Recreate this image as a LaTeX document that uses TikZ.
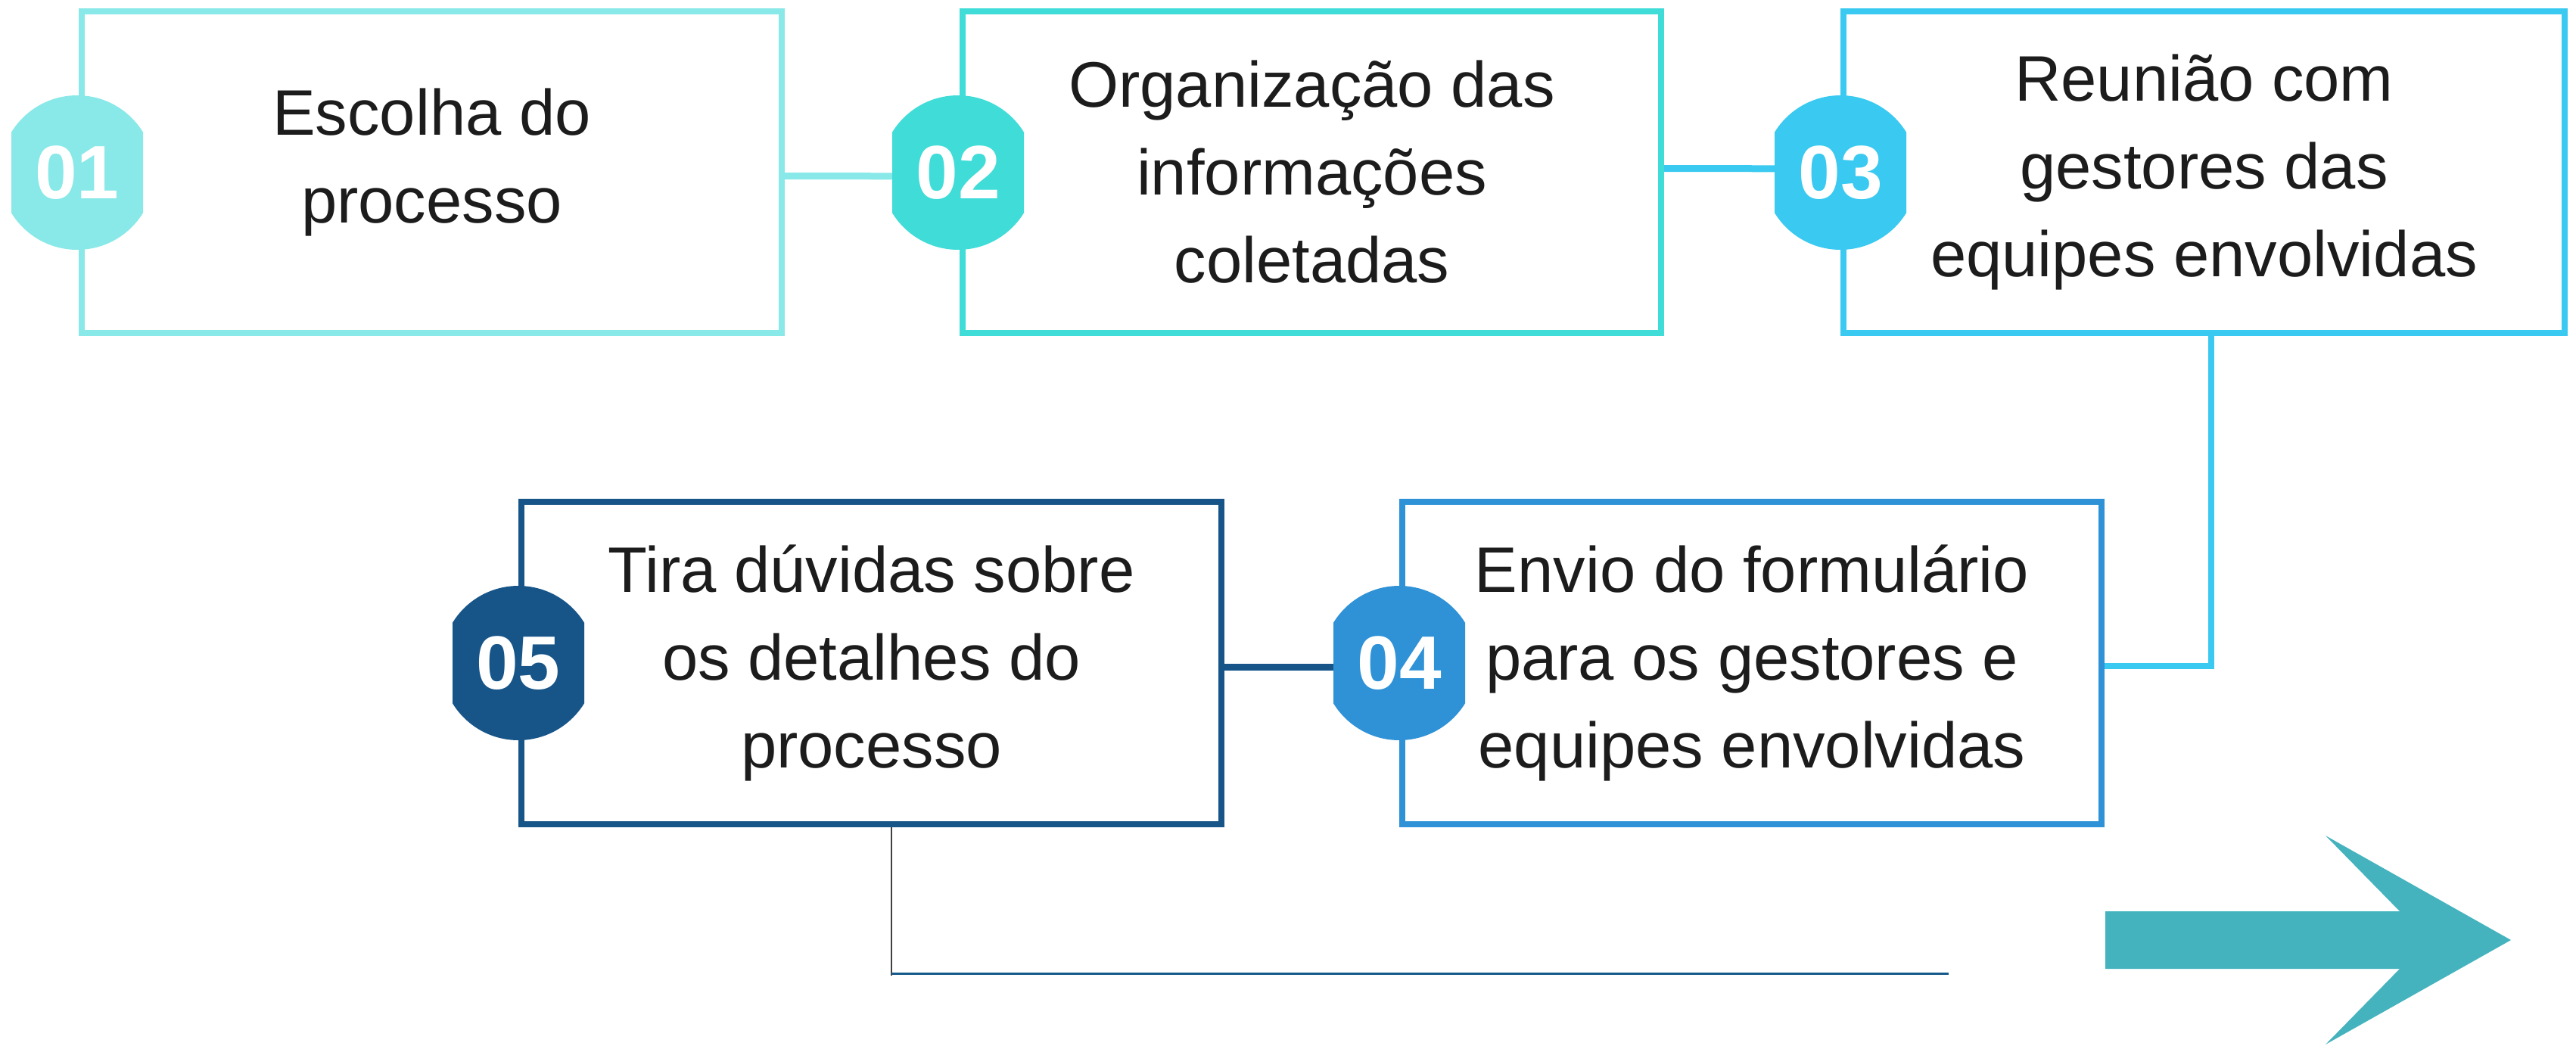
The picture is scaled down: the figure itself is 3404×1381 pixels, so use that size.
\documentclass[tikz,border=0pt]{standalone}
\usepackage{fontspec}
\setmainfont{Liberation Sans}
\usetikzlibrary{backgrounds}
\definecolor{cA}{HTML}{89E8E8}
\definecolor{cB}{HTML}{40DCD8}
\definecolor{cC}{HTML}{3AC9F0}
\definecolor{cD}{HTML}{2F92D6}
\definecolor{cE}{HTML}{175589}
\definecolor{arrowc}{HTML}{45B3BE}
\definecolor{txt}{HTML}{1C1C1C}
\definecolor{thinline}{HTML}{155A8A}
\newcommand\bodyfont{\fontsize{85}{116}\selectfont}
\newcommand\numfont{\fontsize{100}{100}\selectfont\bfseries}
\tikzset{
  box/.style={draw=#1, line width=8pt, minimum width=925pt, minimum height=425pt,
    inner sep=0pt, align=center, font=\bodyfont, text=txt},
  badge/.style={minimum width=174pt, minimum height=204pt, inner sep=0pt,
    text=white, font=\numfont,
    path picture={\fill[#1] (path picture bounding box.center) circle[radius=102pt];}},
  link/.style={draw=#1, line width=9pt},
}
\begin{document}
\begin{tikzpicture}[x=1pt,y=-1pt]
\useasboundingbox (0,0) rectangle (3404,1381);
% boxes
\node[box=cA] (b1) at (570.5,227.5) {};
\node[font=\bodyfont, text=txt, align=center] (t1) at (570.5,215) {Escolha do\\processo};
\node[box=cB, minimum width=923pt] (b2) at (1733.5,227.5) {Organização das\\informações\\coletadas};
\node[box=cC, minimum width=953pt] (b3) at (2912.5,227.5) {Reunião com\\gestores das\\equipes envolvidas};
\node[box=cD, minimum width=924pt, minimum height=426pt] (b4) at (2315,876) {Envio do formulário\\para os gestores e\\equipes envolvidas};
\node[box=cE, minimum height=426pt] (b5) at (1151.5,876) {Tira dúvidas sobre\\os detalhes do\\processo};
% badges
\node[badge=cA] (n1) at (102,228) {01};
\node[badge=cB] (n2) at (1266,228) {02};
\node[badge=cC] (n3) at (2432,228) {03};
\node[badge=cD] (n4) at (1849,876) {04};
\node[badge=cE] (n5) at (685,876) {05};
% connectors
\begin{scope}[on background layer]
  \draw[link=cA] ([yshift=-5pt]b1.east) -- ([yshift=-5pt]n2.center);
  \draw[link=cC] ([yshift=5pt]b2.east) -- ([yshift=5pt]n3.center);
  \draw[link=cC, line width=8.5pt] ([xshift=9.5pt]b3.south) |- ([yshift=-4pt]b4.east);
  \draw[link=cE] ([yshift=-5pt]b5.east) -- ([yshift=-5pt]n4.center);
\end{scope}
\coordinate (lend) at (2575,1286);
\draw[line width=1.2pt, draw=black!75] ([xshift=26.5pt]b5.south) -- ++(0,196);
\draw[line width=3pt, draw=thinline] ([xshift=26.5pt,yshift=-193pt]b5.south) -- (lend);
% big arrow
\fill[arrowc] (2782,1204) -- (3171,1204) -- (3073,1104) -- (3318,1242) -- (3073,1380) -- (3171,1280) -- (2782,1280) -- cycle;
\end{tikzpicture}
\end{document}
